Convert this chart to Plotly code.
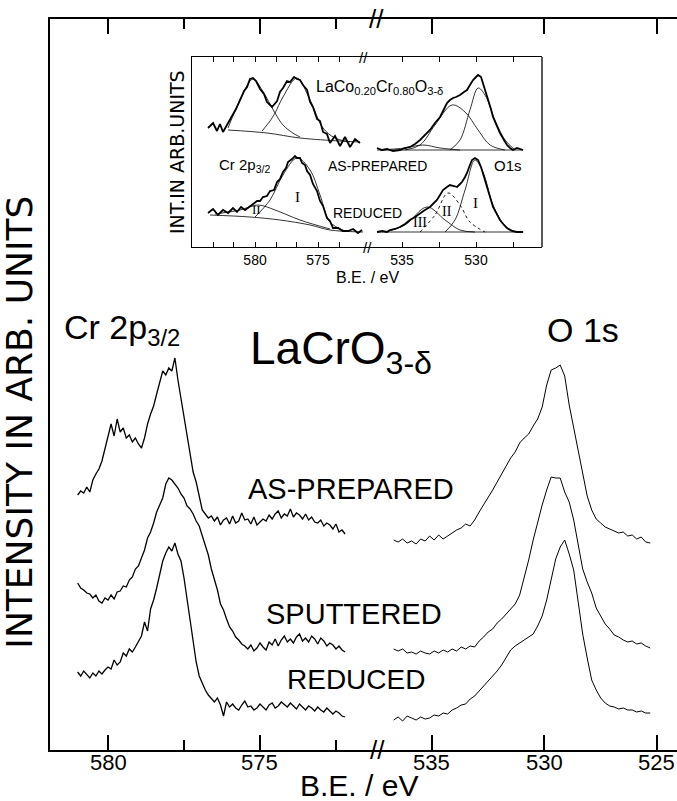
import plotly.graph_objects as go

# ---------------- main panel data (binding energy in eV, intensity in arb. units) -------------
CR_EV = [581.0,580.9,580.8,580.7,580.6,580.5,580.4,580.3,580.2,580.1,
         580.0,579.9,579.8,579.7,579.6,579.5,579.4,579.3,579.2,579.1,
         579.0,578.9,578.8,578.7,578.6,578.5,578.4,578.3,578.2,578.1,
         578.0,577.9,577.8,577.7,577.6,577.5,577.4,577.3,577.2,577.1,
         577.0,576.9,576.8,576.7,576.6,576.5,576.4,576.3,576.2,576.1,
         576.0,575.9,575.8,575.7,575.6,575.5,575.4,575.3,575.2,575.1,
         575.0,574.9,574.8,574.7,574.6,574.5,574.4,574.3,574.2,574.1,
         574.0,573.9,573.8,573.7,573.6,573.5,573.4,573.3,573.2,573.1,
         573.0,572.9,572.8,572.7,572.6,572.5,572.4,572.3,572.2]
CR_AS_PREPARED = [255,259,257,263,258,270,276,281,289,302,
                  316,326,314,331,318,322,312,315,308,312,
                  306,302,312,326,336,344,356,368,379,375,
                  382,379,392,370,352,334,316,294,278,268,
                  252,240,236,232,234,229,233,225,230,232,
                  226,234,227,229,237,230,231,226,233,225,
                  228,231,229,235,231,236,239,232,236,234,
                  241,233,237,235,231,236,230,233,228,227,
                  230,224,227,225,221,226,218,220,216]
CR_SPUTTERED = [167,162,160,157,156,152,155,149,147,152,
                150,155,151,158,159,164,163,170,173,181,
                184,193,200,212,218,227,238,245,252,266,
                272,270,266,262,256,252,244,241,236,229,
                224,215,205,195,181,170,160,146,140,131,
                123,119,113,110,106,104,101,105,99,102,
                107,103,100,108,105,111,104,110,114,108,
                111,107,113,116,109,112,108,114,111,106,
                112,109,104,107,105,101,104,100,98]
CR_REDUCED = [78,74,79,75,72,77,74,79,76,80,
              83,81,90,85,88,97,94,101,98,103,
              108,114,128,119,141,150,162,176,189,197,
              203,199,207,196,189,172,152,131,110,88,
              74,66,60,55,52,48,52,45,34,48,
              43,46,42,40,45,49,43,44,40,42,
              46,43,40,45,47,42,44,48,45,43,
              47,44,41,46,43,40,44,42,39,43,
              40,38,42,39,36,39,37,34,33]

O_EV = [536.7,536.5,536.3,536.1,535.9,535.7,535.5,535.3,535.1,534.9,
        534.7,534.5,534.3,534.1,533.9,533.7,533.5,533.3,533.1,532.9,
        532.7,532.5,532.3,532.1,531.9,531.7,531.5,531.3,531.1,530.9,
        530.7,530.5,530.3,530.1,529.9,529.7,529.5,529.3,529.1,528.9,
        528.7,528.5,528.3,528.1,527.9,527.7,527.5,527.3,527.1,526.9,
        526.7,526.5,526.3,526.1,525.9,525.7,525.5,525.3]
O_AS_PREPARED = [210,208,211,207,209,206,211,209,214,210,
                 215,211,214,217,220,222,226,224,230,238,
                 245,252,260,268,276,284,292,298,307,312,
                 316,324,331,343,365,380,382,385,374,345,
                 322,302,276,254,240,231,227,223,221,219,
                 217,218,214,215,211,213,208,207]
O_SPUTTERED = [101,99,101,97,98,96,99,97,96,99,
               97,100,98,101,99,103,101,104,103,109,
               113,118,121,127,131,136,141,146,155,172,
               190,210,228,245,260,273,272,272,258,248,
               230,207,181,168,157,142,134,126,121,115,
               113,110,108,109,106,107,104,102]
O_REDUCED = [30,33,29,34,32,30,33,31,32,35,
             34,37,36,40,42,45,46,51,54,59,
             64,69,73,79,85,92,100,104,107,110,
             113,116,124,134,150,170,191,203,210,196,
             180,148,116,92,70,60,52,47,44,43,
             41,42,40,40,38,39,37,37]

MAIN_TICKS_LEFT = [580, 575]
MAIN_MINOR_LEFT = [577.5, 572.5]
MAIN_TICKS_RIGHT = [535, 530, 525]

# ---------------- inset data: LaCo0.20Cr0.80O3-d ----------------
INS_CR_AS_EV = [583.73,583.33,583.02,582.78,582.54,582.14,581.75,581.51,581.19,580.87,
                580.63,580.40,580.16,579.92,579.60,579.29,579.05,578.65,578.25,578.02,
                577.78,577.46,577.22,576.90,576.67,576.43,576.19,575.87,575.63,575.40,
                575.08,574.84,574.60,574.29,574.05,573.65,573.25,572.86,572.46,572.06,571.67]
INS_CR_AS = [119,124,116,123,115,124,132,138,147,156,
             160,168,169,166,158,153,145,140,146,155,
             159,166,165,170,168,167,162,157,145,140,
             128,126,115,113,104,111,101,110,100,108,104]
INS_CR_AS_BG_EV = [582.14,579.05,576.43,573.25,571.67]
INS_CR_AS_BG = [117,114,109,106,105]
INS_CR_AS_C1_EV = [582.14,581.19,580.16,579.44,578.41,577.78,577.0,576.43]
INS_CR_AS_C1 = [119,147,168,157,134,122,114,110]
INS_CR_AS_C2_EV = [579.44,578.81,578.41,577.78,576.67,575.63,574.60,573.65,572.46]
INS_CR_AS_C2 = [116,126,134,150,169,147,119,109,105]

INS_CR_RD_EV = [583.73,583.33,582.94,582.54,582.14,581.75,581.43,581.11,580.79,580.40,
                580.08,579.84,579.60,579.37,579.05,578.81,578.49,578.25,578.02,577.78,
                577.54,577.38,577.06,576.83,576.67,576.43,576.27,576.03,575.87,575.63,
                575.40,575.08,574.84,574.60,574.29,574.05,573.81,573.41,573.02,572.62,
                572.22,571.83,571.51]
INS_CR_RD = [34,38,32,37,34,39,35,40,37,41,
             44,46,46,50,51,56,57,65,68,75,
             79,85,88,91,89,89,84,82,76,72,
             63,56,46,41,29,26,19,19,16,16,
             18,14,17]
INS_CR_RD_BG_EV = [583.57,580.40,578.02,575.63,574.05,571.43]
INS_CR_RD_BG = [32,30,27,22,17,15]
INS_CR_RD_II_EV = [583.17,581.19,579.76,578.41,576.43,574.05]
INS_CR_RD_II = [33,37,42,37,27,18]
INS_CR_RD_I_EV = [580.00,578.81,577.78,576.67,575.63,574.84,574.05,572.86]
INS_CR_RD_I = [30,47,72,89,77,52,25,16]

INS_O_AS_EV = [536.69,536.35,536.01,535.61,535.14,534.80,534.46,534.12,533.78,533.45,
               533.11,532.77,532.43,532.16,531.96,531.76,531.55,531.35,531.08,530.81,
               530.61,530.41,530.20,530.00,529.86,529.66,529.53,529.32,529.19,528.99,
               528.85,528.58,528.38,528.11,527.91,527.70,527.50,527.23,527.03,526.82]
INS_O_AS = [99,97,98,96,97,99,100,103,107,112,
            117,124,130,138,144,147,149,150,152,155,
            157,162,167,170,172,170,164,155,147,138,
            130,121,114,107,102,99,97,99,98,97]
INS_O_AS_BG_EV = [536.69,526.82]
INS_O_AS_BG = [97,97]
INS_O_AS_III_EV = [536.49,534.80,533.58,532.43,531.08]
INS_O_AS_III = [97,99,102,99,97]
INS_O_AS_II_EV = [534.80,533.78,532.77,531.62,530.74,529.86,529.05,528.04]
INS_O_AS_II = [97,102,122,142,135,117,102,97]
INS_O_AS_I_EV = [531.76,531.08,530.41,529.86,529.39,528.72,528.04,527.36]
INS_O_AS_I = [97,107,137,159,152,127,107,97]

INS_O_RD_EV = [536.69,536.35,536.01,535.81,535.47,535.14,534.80,534.46,534.12,533.78,
               533.45,533.11,532.84,532.64,532.43,532.23,531.96,531.76,531.49,531.28,
               531.08,530.95,530.74,530.61,530.41,530.27,530.07,529.86,529.66,529.53,
               529.32,529.19,528.99,528.85,528.58,528.38,528.11,527.91,527.57,527.23,526.82]
INS_O_RD = [15,16,15,17,18,20,23,27,30,34,
            37,40,44,47,52,57,60,62,61,60,
            63,65,70,74,82,87,89,87,80,74,
            64,57,47,40,32,27,22,19,16,15,15]
INS_O_RD_BG_EV = [536.69,526.82]
INS_O_RD_BG = [15,15]
INS_O_RD_III_EV = [536.15,534.80,533.31,532.09,531.08,530.07]
INS_O_RD_III = [15,22,40,27,17,15]
INS_O_RD_II_EV = [533.78,532.77,531.89,531.08,530.41,529.39]
INS_O_RD_II = [15,32,54,42,25,15]
INS_O_RD_I_EV = [532.09,531.42,530.74,530.07,529.53,528.85,528.04,527.36]
INS_O_RD_I = [15,27,57,87,75,42,21,15]

INS_TICKS_LEFT = [583.33,581.67,580,578.33,576.67,575,573.33]
INS_TICKTEXT_LEFT = ['', '', '580', '', '', '575', '']
INS_TICKS_RIGHT = [535,532.5,530,527.5]
INS_TICKTEXT_RIGHT = ['535', '', '530', '']

SANS = "Liberation Sans, Arial, sans-serif"
WIDE = "DejaVu Sans, Liberation Sans, sans-serif"
SERIF = "Liberation Serif, Times New Roman, serif"

fig = go.Figure()

def add(x, y, xa, ya, width=1.2, dash="solid", shape="linear"):
    fig.add_trace(go.Scatter(x=x, y=y, xaxis=xa, yaxis=ya, mode="lines",
                             line=dict(color="black", width=width, dash=dash, shape=shape),
                             hoverinfo="skip", showlegend=False))

# main spectra
for ys in (CR_AS_PREPARED, CR_SPUTTERED, CR_REDUCED):
    add(CR_EV, ys, "x", "y", 1.3)
for ys in (O_AS_PREPARED, O_SPUTTERED, O_REDUCED):
    add(O_EV, ys, "x2", "y", 1.0)

# inset spectra
add(INS_CR_AS_EV, INS_CR_AS, "x3", "y3", 1.8)
add(INS_CR_RD_EV, INS_CR_RD, "x3", "y3", 1.8)
add(INS_O_AS_EV, INS_O_AS, "x4", "y3", 1.8)
add(INS_O_RD_EV, INS_O_RD, "x4", "y3", 1.8)
# fitted components
for xs, ys in ((INS_CR_AS_BG_EV, INS_CR_AS_BG), (INS_CR_AS_C1_EV, INS_CR_AS_C1),
               (INS_CR_AS_C2_EV, INS_CR_AS_C2), (INS_CR_RD_BG_EV, INS_CR_RD_BG),
               (INS_CR_RD_II_EV, INS_CR_RD_II), (INS_CR_RD_I_EV, INS_CR_RD_I)):
    add(xs, ys, "x3", "y3", 0.8, shape="spline")
for xs, ys in ((INS_O_AS_BG_EV, INS_O_AS_BG), (INS_O_AS_III_EV, INS_O_AS_III),
               (INS_O_AS_II_EV, INS_O_AS_II), (INS_O_AS_I_EV, INS_O_AS_I),
               (INS_O_RD_BG_EV, INS_O_RD_BG), (INS_O_RD_III_EV, INS_O_RD_III),
               (INS_O_RD_I_EV, INS_O_RD_I)):
    add(xs, ys, "x4", "y3", 0.8, shape="spline")
add(INS_O_RD_II_EV, INS_O_RD_II, "x4", "y3", 0.9, dash="dot", shape="spline")

D1 = 0.5215
common_x = dict(showline=True, linecolor="black", linewidth=1.6, mirror="ticks",
                ticks="inside", tickcolor="black", tickwidth=1.5, ticklen=15,
                showgrid=False, zeroline=False, showticklabels=False)
fig.update_layout(
    width=677, height=801, autosize=False,
    margin=dict(l=50, r=0, t=19, b=51),
    paper_bgcolor="white", plot_bgcolor="white",
    xaxis=dict(domain=[0, D1], range=[581.91, 571.15], anchor="y",
               tickvals=MAIN_TICKS_LEFT,
               minor=dict(tickvals=MAIN_MINOR_LEFT, ticks="inside", ticklen=10,
                          tickwidth=1.5, tickcolor="black"),
               **common_x),
    xaxis2=dict(domain=[D1, 1], range=[537.44, 524.11], anchor="y",
                tickvals=MAIN_TICKS_RIGHT, **common_x),
    yaxis=dict(domain=[0, 1], range=[0, 731], anchor="x", showline=True,
               linecolor="black", linewidth=1.6, ticks="", showticklabels=False,
               showgrid=False, zeroline=False),
    xaxis3=dict(domain=[0.2265, 0.5024], range=[585.0, 571.27], anchor="y3",
                showline=True, linecolor="black", linewidth=1.3, mirror="ticks",
                ticks="inside", ticklen=5, tickwidth=1.2, tickcolor="black",
                tickvals=INS_TICKS_LEFT, ticktext=INS_TICKTEXT_LEFT,
                tickfont=dict(family=SANS, size=14, color="black"),
                showgrid=False, zeroline=False),
    xaxis4=dict(domain=[0.5024, 0.7847], range=[537.5, 525.54], anchor="y3",
                showline=True, linecolor="black", linewidth=1.3, mirror="ticks",
                ticks="inside", ticklen=5, tickwidth=1.2, tickcolor="black",
                tickvals=INS_TICKS_RIGHT, ticktext=INS_TICKTEXT_RIGHT,
                tickfont=dict(family=SANS, size=14, color="black"),
                showgrid=False, zeroline=False),
    yaxis3=dict(domain=[0.6881, 0.9480], range=[0, 190], anchor="x3",
                showline=True, linecolor="black", linewidth=1.3, ticks="",
                showticklabels=False, showgrid=False, zeroline=False),
)

# right border of the inset frame
fig.add_shape(type="line", xref="paper", yref="paper", x0=0.7847, x1=0.7847,
              y0=0.6881, y1=0.9480, line=dict(color="black", width=1.3))

# main tick labels (placed close under the axis line, as in the original)
for xa, vals in (("x", MAIN_TICKS_LEFT), ("x2", MAIN_TICKS_RIGHT)):
    for v in vals:
        fig.add_annotation(x=v, y=-0.0175, xref=xa, yref="paper", text=str(v),
                           showarrow=False, xanchor="center", yanchor="middle",
                           font=dict(family=SANS, size=22, color="black"))

def txt(x, y, s, size, fam=SANS, angle=0, xanchor="center", yanchor="middle"):
    fig.add_annotation(x=x, y=y, xref="paper", yref="paper", text=s, showarrow=False,
                       textangle=angle, xanchor=xanchor, yanchor=yanchor,
                       font=dict(family=fam, size=size, color="black"))

# main texts
txt(0.493, -0.049, "B.E. / eV", 30)
txt(-0.048, 0.449, "INTENSITY IN ARB. UNITS", 36, fam=WIDE, angle=-90)
txt(0.019, 0.575, "Cr 2p<sub>3/2</sub>", 34, xanchor="left")
txt(0.316, 0.545, "LaCrO<sub>3-δ</sub>", 46, xanchor="left")
txt(0.789, 0.575, "O 1s", 34, xanchor="left")
txt(0.480, 0.357, "AS-PREPARED", 29)
txt(0.485, 0.186, "SPUTTERED", 29)
txt(0.488, 0.096, "REDUCED", 28)
# axis breaks
txt(0.522, 0.0, "//", 26)
txt(0.520, 1.0, "//", 26)
txt(0.500, 0.948, "//", 15)
txt(0.506, 0.688, "//", 15)

# inset texts
txt(0.2026, 0.818, "INT.IN ARB.UNITS", 19, fam=WIDE, angle=-90)
txt(0.506, 0.647, "B.E. / eV", 16)
txt(0.526, 0.906, "LaCo<sub>0.20</sub>Cr<sub>0.80</sub>O<sub>3-δ</sub>", 16)
txt(0.311, 0.799, "Cr 2p<sub>3/2</sub>", 15)
txt(0.523, 0.799, "AS-PREPARED", 14)
txt(0.730, 0.799, "O1s", 15)
txt(0.507, 0.735, "REDUCED", 14)
txt(0.394, 0.757, "I", 15, fam=SERIF)
txt(0.330, 0.739, "II", 13, fam=SERIF)
txt(0.590, 0.722, "III", 14, fam=SERIF)
txt(0.633, 0.736, "II", 14, fam=SERIF)
txt(0.678, 0.748, "I", 15, fam=SERIF)

fig.write_html("out.html")
